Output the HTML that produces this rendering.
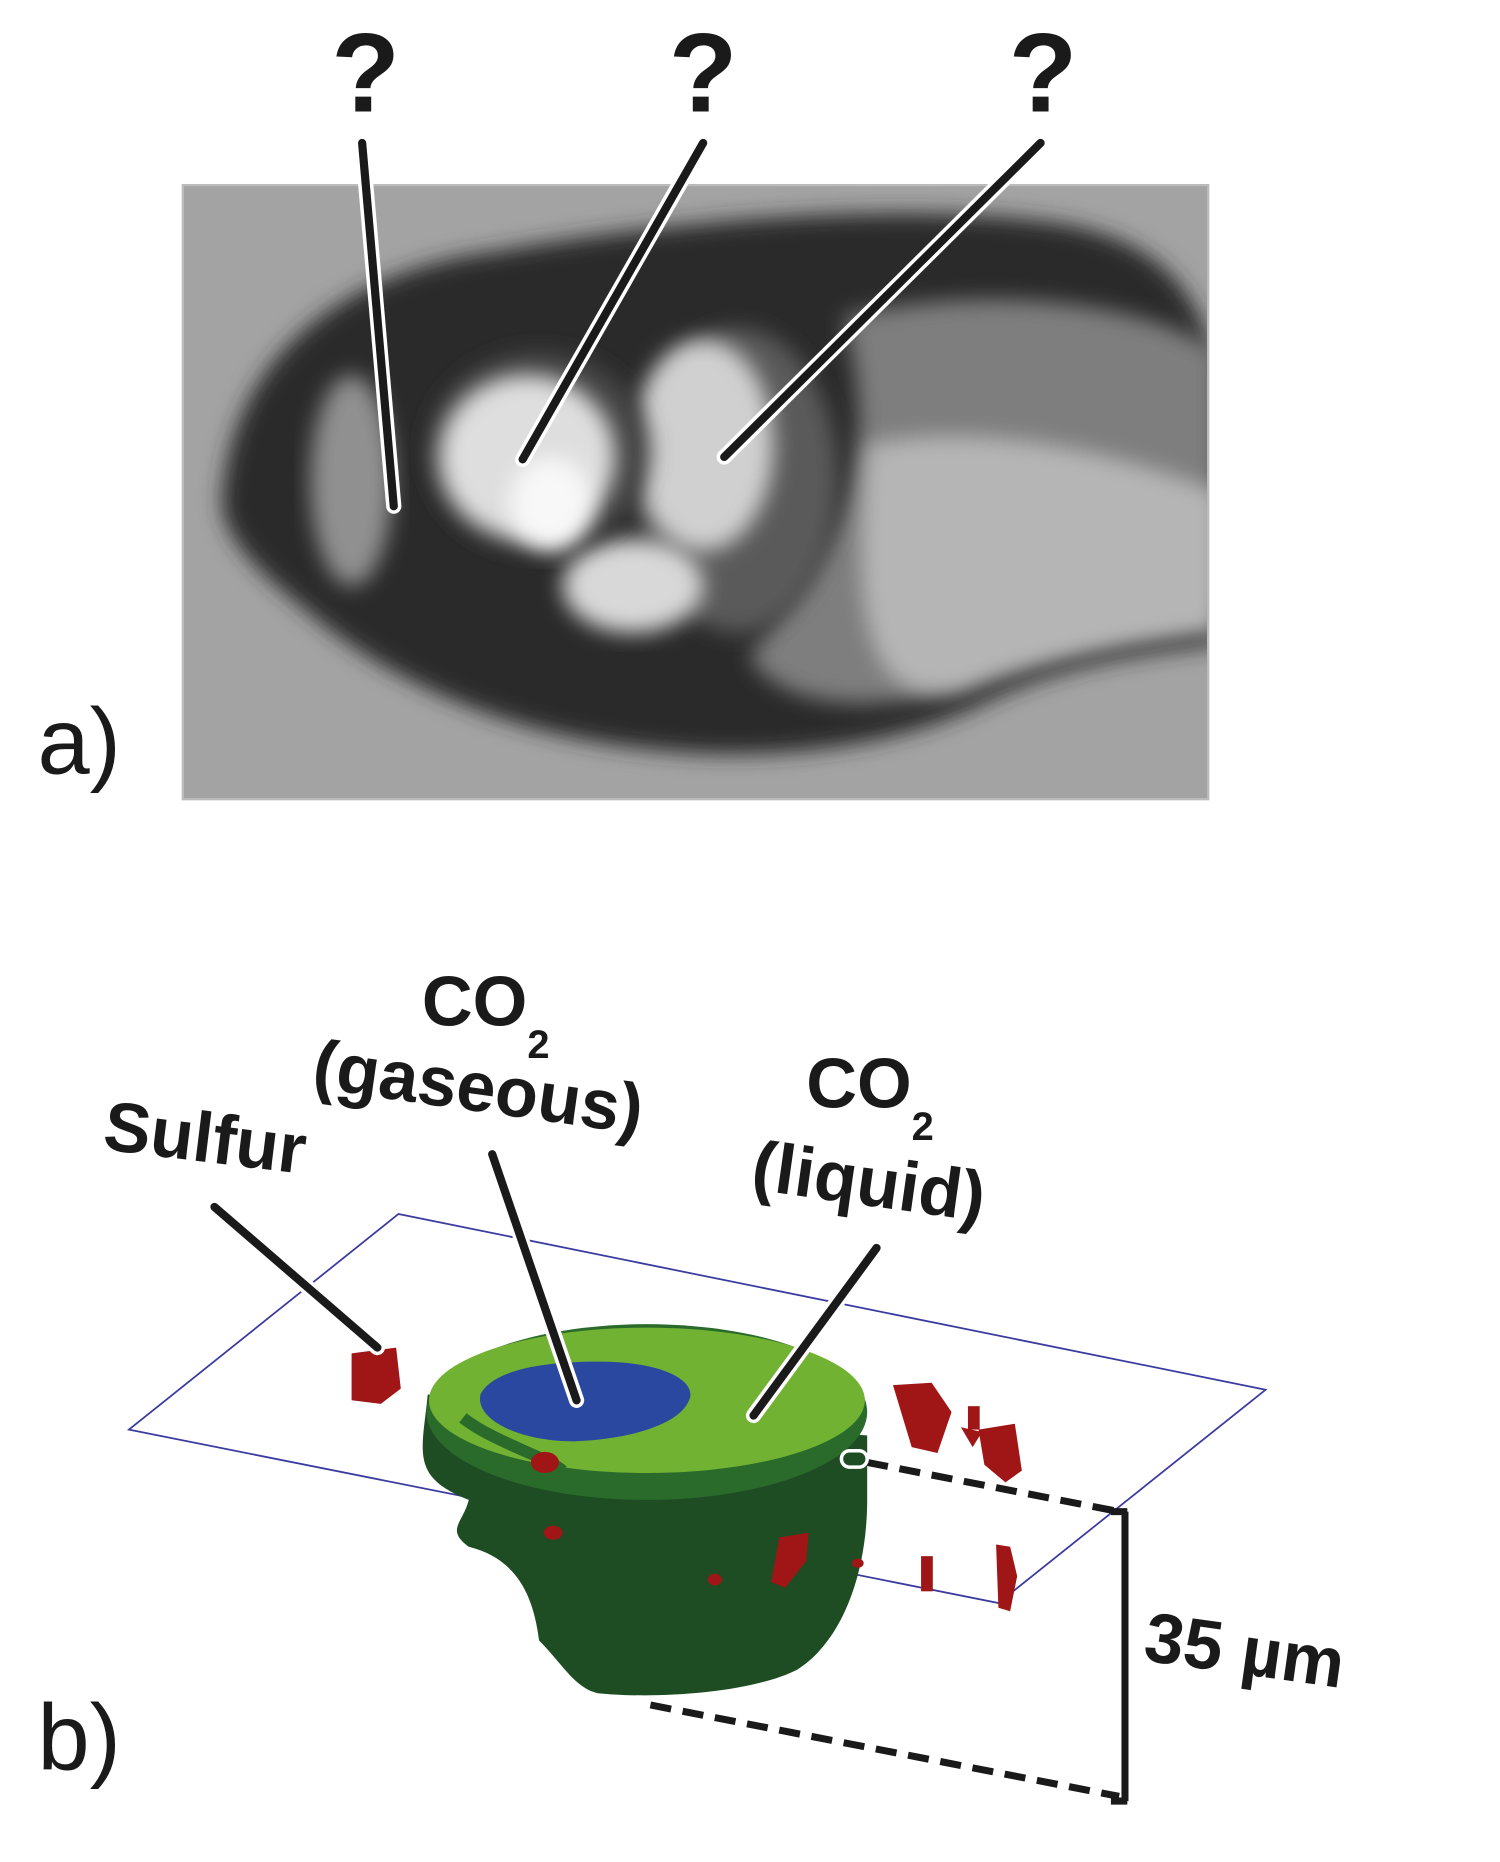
<!DOCTYPE html>
<html><head><meta charset="utf-8"><style>html,body{margin:0;padding:0;background:#fff}svg{display:block}</style></head><body>
<svg width="1500" height="1862" viewBox="0 0 1280 1589" xmlns="http://www.w3.org/2000/svg" font-family="Liberation Sans, sans-serif" font-weight="bold">
<defs>
<filter id="b" x="-20%" y="-20%" width="140%" height="140%"><feGaussianBlur stdDeviation="9"/></filter>
<filter id="b2"><feGaussianBlur stdDeviation="4"/></filter>
<clipPath id="c"><rect x="157" y="159" width="873" height="522"/></clipPath>
</defs>
<!-- panel a photo -->
<rect x="156" y="158" width="875" height="524" fill="#9a9a9a" stroke="#bbb" stroke-width="2"/>
<g clip-path="url(#c)">
<rect x="156" y="158" width="875" height="524" fill="#a3a3a3"/>
<path d="M190 420 C200 300 300 230 420 215 C560 190 760 170 900 190 C1000 205 1030 260 1040 330 L1040 550 C960 560 900 570 840 600 C760 640 650 650 560 640 C450 630 340 590 260 520 C210 480 185 450 190 420Z" fill="#2a2a2a" filter="url(#b)"/>
<path d="M720 270 C850 240 980 260 1040 300 L1040 520 C950 540 880 560 800 590 C740 610 660 600 640 560 C700 480 760 420 720 270Z" fill="#7e7e7e" filter="url(#b)"/>
<path d="M740 380 C820 360 940 380 1040 420 L1040 540 C950 550 880 565 820 590 C760 600 720 570 740 380Z" fill="#b5b5b5" filter="url(#b)"/>
<ellipse cx="300" cy="410" rx="35" ry="90" fill="#909090" filter="url(#b)"/>
<ellipse cx="630" cy="410" rx="85" ry="130" fill="#5a5a5a" filter="url(#b)"/>
<ellipse cx="600" cy="380" rx="60" ry="90" fill="#d0d0d0" filter="url(#b)"/>
<ellipse cx="540" cy="500" rx="60" ry="40" fill="#d8d8d8" filter="url(#b)"/>
<ellipse cx="460" cy="385" rx="95" ry="85" fill="#444" filter="url(#b)"/>
<ellipse cx="450" cy="390" rx="75" ry="70" fill="#dedede" filter="url(#b)"/>
<ellipse cx="470" cy="430" rx="35" ry="40" fill="#f8f8f8" filter="url(#b)"/>
</g>
<!-- pointer lines -->
<g stroke-linecap="round" fill="none">
<g stroke="#fff" stroke-width="13"><line x1="309" y1="122" x2="336" y2="432"/><line x1="600" y1="122" x2="446" y2="392"/><line x1="888" y1="122" x2="618" y2="390"/></g>
<g stroke="#1a1a1a" stroke-width="7"><line x1="309" y1="122" x2="336" y2="432"/><line x1="600" y1="122" x2="446" y2="392"/><line x1="888" y1="122" x2="618" y2="390"/></g>
</g>
<g font-size="96" fill="#1a1a1a" text-anchor="middle"><text x="312" y="95">?</text><text x="600" y="95">?</text><text x="890" y="95">?</text></g>
<text x="32" y="660" font-size="80" font-weight="normal" fill="#1a1a1a">a)</text>
<text x="32" y="1510" font-size="80" font-weight="normal" fill="#1a1a1a">b)</text>
<!-- panel b plane -->
<polygon points="340,1036 1080,1186 852,1368 110,1220" fill="none" stroke="#3a3aa0" stroke-width="1.5"/>
<!-- green body -->
<path d="M365 1190 C360 1240 350 1260 400 1280 C395 1300 380 1305 400 1320 C440 1330 455 1360 460 1400 C480 1420 490 1440 510 1445 C560 1450 640 1445 680 1425 C720 1400 740 1340 740 1280 L740 1225 Z" fill="#1e4d23"/>
<ellipse cx="552" cy="1205" rx="188" ry="75" fill="#2a6b2c"/>
<ellipse cx="552" cy="1195" rx="186" ry="62" fill="#72b233"/>
<path d="M410 1190 C420 1170 460 1162 510 1162 C570 1162 595 1180 588 1195 C580 1215 540 1228 490 1230 C440 1230 405 1210 410 1190Z" fill="#2b48a0"/>
<path d="M395 1210 C420 1230 470 1245 480 1255" stroke="#2a6b2c" stroke-width="10" fill="none"/>
<!-- red blobs -->
<g fill="#a01515">
<path d="M300 1155 L338 1150 L342 1185 L325 1198 L300 1195Z"/>
<path d="M762 1182 L795 1180 L812 1205 L800 1240 L778 1235Z"/>
<path d="M835 1220 L866 1215 L872 1255 L858 1265 L840 1250Z"/>
<path d="M820 1218 L838 1222 L830 1235Z"/>
<rect x="826" y="1200" width="10" height="20"/>
<ellipse cx="465" cy="1248" rx="12" ry="9"/>
<path d="M665 1312 L690 1308 L688 1332 L670 1355 L658 1350Z"/>
<path d="M850 1318 L862 1320 L868 1345 L862 1375 L852 1372Z"/>
<rect x="786" y="1328" width="10" height="30"/>
<ellipse cx="472" cy="1308" rx="8" ry="6"/>
<ellipse cx="610" cy="1348" rx="6" ry="5"/>
<ellipse cx="732" cy="1334" rx="5" ry="4"/>
</g>
<!-- dashed guides -->
<g stroke="#1a1a1a" stroke-width="6" fill="none">
<line x1="740" y1="1248" x2="955" y2="1290" stroke-dasharray="18,10"/>
<line x1="555" y1="1455" x2="955" y2="1533" stroke-dasharray="18,10"/>
<line x1="960" y1="1290" x2="960" y2="1537"/>
<line x1="948" y1="1290" x2="962" y2="1290"/>
<line x1="948" y1="1537" x2="962" y2="1537"/>
</g>
<rect x="718" y="1238" width="22" height="14" rx="7" fill="none" stroke="#fff" stroke-width="3"/>
<!-- b pointers -->
<g stroke-linecap="round" fill="none">
<g stroke="#fff" stroke-width="13"><line x1="183" y1="1030" x2="322" y2="1150"/><line x1="420" y1="985" x2="492" y2="1195"/><line x1="748" y1="1065" x2="643" y2="1208"/></g>
<g stroke="#1a1a1a" stroke-width="7"><line x1="183" y1="1030" x2="322" y2="1150"/><line x1="420" y1="985" x2="492" y2="1195"/><line x1="748" y1="1065" x2="643" y2="1208"/></g>
</g>
<!-- labels -->
<g fill="#1a1a1a">
<text x="88" y="992" font-size="60" transform="rotate(7 180 975)">Sulfur</text>
<text x="360" y="875" font-size="60">CO<tspan font-size="34" dy="28">2</tspan></text>
<text x="265" y="950" font-size="60" transform="rotate(8 420 940)">(gaseous)</text>
<text x="688" y="945" font-size="60">CO<tspan font-size="34" dy="28">2</tspan></text>
<text x="640" y="1030" font-size="60" transform="rotate(8 750 1020)">(liquid)</text>
<text x="975" y="1430" font-size="60" transform="rotate(8 1070 1420)">35 µm</text>
</g>
</svg>
</body></html>
